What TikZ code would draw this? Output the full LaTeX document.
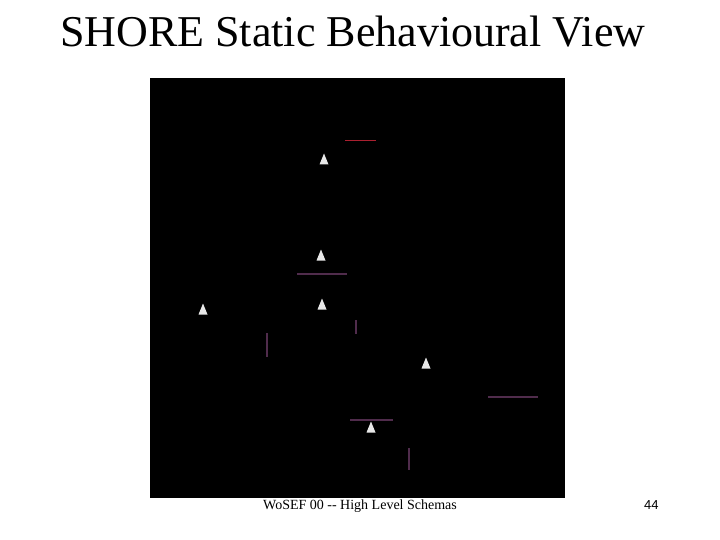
\documentclass[tikz,border=0pt]{standalone}
\usepackage{fontspec}
\setmainfont{Liberation Serif}
\newfontfamily\pagefont{Liberation Sans}
\usepackage{tikz}
\usetikzlibrary{positioning}
\definecolor{viewbg}{RGB}{0,0,0}
\definecolor{markfill}{RGB}{232,232,232}
\definecolor{tracered}{RGB}{170,32,48}
\definecolor{tracepurple}{RGB}{80,44,76}

\begin{document}
\begin{tikzpicture}[x=1pt, y=-1pt,
    trace/.style={line width=1.4pt},
    marker/.style={fill=markfill}]
    \useasboundingbox (0,0) rectangle (720,540);

    % === TITRE ===
    \node[font=\fontsize{44}{50}\selectfont, anchor=base west, inner sep=0pt] (title) at (60,47) {SHORE Static Behavioural View};

    % === VUE (FOND NOIR) ===
    \fill[viewbg] (150,78) rectangle (565,498);

    % Traits horizontaux
    \draw[trace, tracered] (345,140.5) -- (376,140.5);
    \draw[trace, tracepurple] (297,274) -- (347,274);
    \draw[trace, tracepurple] (488,397) -- (538,397);
    \draw[trace, tracepurple] (350,420) -- (393,420);

    % Traits verticaux
    \draw[trace, tracepurple] (356,320) -- (356,334);
    \draw[trace, tracepurple] (267,333) -- (267,357);
    \draw[trace, tracepurple] (409,448) -- (409,470);

    % Triangles blancs
    \foreach \x/\y in {324/159, 321/255, 322/304, 203/309, 426/363, 371/427}
        \fill[marker] (\x-4.5,\y+5.5) -- (\x,\y-5.5) -- (\x+4.5,\y+5.5) -- cycle;

    % === PIED DE PAGE ===
    \node[font=\fontsize{14}{16}\selectfont, anchor=base west, inner sep=0pt] (footer) at (263,509) {WoSEF 00 -{}- High Level Schemas};
    \node[font=\pagefont\fontsize{13}{15}\selectfont, anchor=base west, inner sep=0pt] (pagenum) at (644,509) {44};

\end{tikzpicture}
\end{document}
